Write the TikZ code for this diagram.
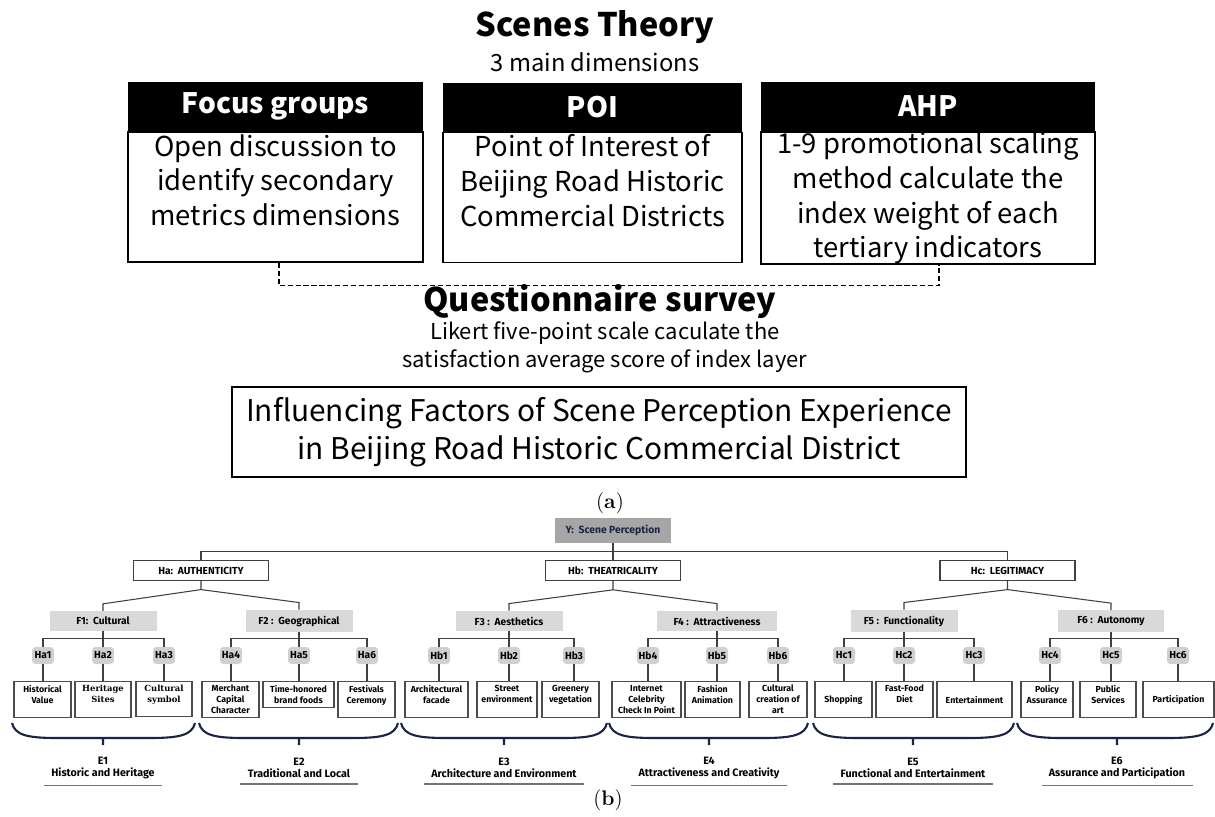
\documentclass[tikz,border=0pt]{standalone}
\usepackage{fontspec}
\newfontfamily\topfont{Noto Sans CJK SC}
\newfontfamily\treefont{Fira Sans}
\newfontfamily\slabfont{DejaVu Serif}
\usetikzlibrary{positioning}

\definecolor{navy}{HTML}{1B2447}
\definecolor{fgray}{HTML}{D9D9D9}
\definecolor{ygray}{HTML}{A6A6A6}
\definecolor{hgray}{HTML}{D0D0D0}

\begin{document}
\begin{tikzpicture}[x=0.02cm, y=-0.02cm,
        head/.style = {fill=black, text=white, inner sep=0pt, minimum height=0.98cm,
                       font=\topfont\bfseries\fontsize{16}{20}\selectfont},
        body/.style = {draw, line width=0.9pt, inner sep=0pt, align=center, minimum height=2.6cm,
                       font=\topfont\fontsize{15.6}{19.7}\selectfont},
        dashline/.style = {draw, line width=0.6pt, dash pattern=on 3pt off 1.5pt},
        ynode/.style = {fill=ygray, text=navy, minimum width=2.32cm, minimum height=0.5cm,
                        font=\treefont\bfseries\fontsize{5.9}{6.5}\selectfont},
        hbox/.style = {draw=black!75, line width=0.6pt, minimum width=2.7cm, minimum height=0.38cm,
                       font=\treefont\bfseries\fontsize{5.8}{6.5}\selectfont},
        fbox/.style = {fill=fgray, minimum width=#1*0.02cm, minimum height=0.36cm,
                       font=\treefont\bfseries\fontsize{5.8}{6.5}\selectfont},
        hnode/.style = {fill=hgray, rounded corners=2pt, minimum width=0.44cm, minimum height=0.34cm,
                        inner sep=1pt, font=\treefont\bfseries\fontsize{5.8}{6.5}\selectfont},
        leaf/.style = {draw=black!70, line width=0.6pt, anchor=north, align=center, inner sep=0pt,
                       minimum width=#1*0.02cm, minimum height=0.72cm,
                       font=\treefont\bfseries\fontsize{5}{6.2}\selectfont},
        edge/.style = {draw=black!75, line width=0.6pt},
        brace/.style = {draw=navy, line width=1.2pt},
        ulin/.style = {draw=black!55, line width=0.8pt},
        elabel/.style = {align=center, inner xsep=4pt, inner ysep=3.5pt,
                         font=\treefont\bfseries\fontsize{6.1}{6.6}\selectfont}
        ]
    \useasboundingbox (0,0) rectangle (1215,816);

    % (a)
    \node[font=\topfont\bfseries\fontsize{18.5}{22}\selectfont] (title) at (595,27) {Scenes Theory};
    \node[font=\topfont\fontsize{13.5}{16}\selectfont] (dims) at (595,62) {3 main dimensions};

    \node[head, minimum width=5.9cm] (hfocus) at (275.5,106.5) {Focus groups};
    \node[body, minimum width=5.9cm, below=0pt of hfocus] (focus)
        {Open discussion to\\identify secondary\\metrics dimensions\\~};
    \node[head, minimum width=5.98cm] (hpoi) at (592.5,107) {POI};
    \node[body, minimum width=5.98cm, below=0pt of hpoi] (poi)
        {Point of Interest of\\Beijing Road Historic\\Commercial Districts\\~};
    \node[head, minimum width=6.68cm] (hahp) at (928,106.5) {AHP};
    \node[body, minimum width=6.68cm, minimum height=2.64cm, below=0pt of hahp] (ahp)
        {1-9 promotional scaling\\method calculate the\\index weight of each\\tertiary indicators};

    \draw[dashline] ([xshift=0.07cm]focus.south) -- ++(0,23) -| ([xshift=0.22cm]ahp.south);

    \node[font=\topfont\bfseries\fontsize{18.5}{22}\selectfont] (quest) at (600,302) {Questionnaire survey};
    \node[align=center, font=\topfont\fontsize{12.5}{15.9}\selectfont] (likert) at (605,347)
        {Likert five-point scale caculate the\\satisfaction average score of index layer};
    \node[draw, line width=0.9pt, align=center, minimum width=14.68cm, minimum height=1.8cm,
          font=\topfont\fontsize{17}{22}\selectfont] (factors) at (599,432)
        {Influencing Factors of Scene Perception Experience\\in Beijing Road Historic Commercial District};
    \node[font=\fontsize{12}{14}\selectfont] (capa) at (610,503) {(\textbf{a})};

    % (b)
    \node[ynode] (Y) at (613,530.5) {Y:\ \ Scene Perception};
    \node[hbox] (Ha) at (201,570.5) {Ha:\ \ AUTHENTICITY};
    \node[hbox] (Hb) at (613,570.5) {Hb:\ \ THEATRICALITY};
    \node[hbox] (Hc) at (1007.5,570.5) {Hc:\ \ LEGITIMACY};
    \draw[edge] (Y.south) -- (Hb.north);
    \draw[edge] (Ha.north) -- ++(0,-9) -| (Hc.north);

    \node[fbox=107] (F1) at (103,621) {F1:\ \ Cultural};
    \node[fbox=107] (F2) at (299,621) {F2\ :\ \ Geographical};
    \node[fbox=107] (F3) at (509,621) {F3\ :\ \ Aesthetics};
    \node[fbox=120] (F4) at (717,621) {F4\ :\ \ Attractiveness};
    \node[fbox=107] (F5) at (904,621) {F5\ :\ \ Functionality};
    \node[fbox=106] (F6) at (1111,621) {F6\ :\ \ Autonomy};

    \foreach \h/\l/\r in {Ha/F1/F2, Hb/F3/F4, Hc/F5/F6}
        \draw[edge] (\l.north) -- ++(0,-7) -- ([yshift=-0.18cm]\h.south) -- ([yshift=0.14cm]\r.north)
            -- (\r.north) ([yshift=-0.18cm]\h.south) -- (\h.south);

    \foreach \n/\x in {Ha1/43, Ha2/103, Ha3/164, Ha4/231, Ha5/299, Ha6/367,
                       Hb1/439, Hb2/509, Hb3/574, Hb4/648, Hb5/717, Hb6/778,
                       Hc1/844, Hc2/904, Hc3/974, Hc4/1050, Hc5/1111, Hc6/1178}
        \node[hnode] (\n) at (\x,655.5) {\n};

    \foreach \f/\a/\b/\c in {F1/Ha1/Ha2/Ha3, F2/Ha4/Ha5/Ha6, F3/Hb1/Hb2/Hb3,
                             F4/Hb4/Hb5/Hb6, F5/Hc1/Hc2/Hc3, F6/Hc4/Hc5/Hc6}
        \draw[edge] (\f.south) -- (\b.north) (\a.north) -- ++(0,-8) -| (\c.north);

    \node[leaf=57] (vHa1) at (42.5,681) {Historical\\Value\\~};
    \node[leaf=56, font=\slabfont\bfseries\fontsize{4.8}{6.2}\selectfont] (vHa2) at (103,681) {Heritage\\Sites\\~};
    \node[leaf=56, minimum height=0.7cm, font=\slabfont\bfseries\fontsize{4.8}{6.2}\selectfont] (vHa3) at (164,681) {Cultural\\symbol\\~};
    \node[leaf=57] (vHa4) at (230.5,681) {Merchant\\Capital\\Character};
    \node[leaf=71, minimum height=0.52cm] (vHa5) at (298.5,681) {Time-honored\\brand foods};
    \node[leaf=57] (vHa6) at (366.5,681) {Festivals\\Ceremony\\~};
    \node[leaf=63] (vHb1) at (436.5,681) {Architectural\\facade\\~};
    \node[leaf=60] (vHb2) at (507,681) {Street\\environment\\~};
    \node[leaf=57] (vHb3) at (570.5,681) {Greenery\\vegetation\\~};
    \node[leaf=69] (vHb4) at (646.5,681) {Internet\\Celebrity\\Check In Point};
    \node[leaf=55] (vHb5) at (712.5,681) {Fashion\\Animation\\~};
    \node[leaf=58] (vHb6) at (778,681) {Cultural\\creation of\\art};
    \node[leaf=57] (vHc1) at (843.5,681) {Shopping};
    \node[leaf=57] (vHc2) at (904.5,681) {Fast-Food\\Diet\\~};
    \node[leaf=75] (vHc3) at (974.5,681) {Entertainment};
    \node[leaf=52] (vHc4) at (1047,681) {Policy\\Assurance\\~};
    \node[leaf=56] (vHc5) at (1108,681) {Public\\Services\\~};
    \node[leaf=71] (vHc6) at (1178.5,681) {Participation};

    \foreach \n in {Ha1,Ha2,Ha3,Ha4,Ha5,Ha6,Hb1,Hb2,Hb3,Hb4,Hb5,Hb6,Hc1,Hc2,Hc3,Hc4,Hc5,Hc6}
        \draw[edge] (\n.south) -- (\n.south |- v\n.north);

    \foreach \a/\b/\c in {12/195/103, 199/398/299, 401/607/504, 609/808/709, 813/1014/913, 1017/1213/1117}
        \draw[brace] (\a,723) .. controls (\a+3,735) and (\a+15,738) .. (\a+45,738) -- (\b-45,738)
            .. controls (\b-15,738) and (\b-3,735) .. (\b,723) (\c,738) -- (\c,745);

    \node[elabel] (E1) at (103,768) {E1\\Historic and Heritage};
    \node[elabel] (E2) at (299,768) {E2\\Traditional and Local};
    \node[elabel] (E3) at (504,768) {E3\\Architecture and Environment};
    \node[elabel] (E4) at (709,768) {E4\\Attractiveness and Creativity};
    \node[elabel] (E5) at (913,768) {E5\\Functional and Entertainment};
    \node[elabel] (E6) at (1117,768) {E6\\Assurance and Participation};
    \foreach \e in {E1,E2,E3,E4,E5,E6}
        \draw[ulin] (\e.south west) -- (\e.south east);

    \node[font=\fontsize{12}{14}\selectfont] (capb) at (608,800) {(\textbf{b})};
\end{tikzpicture}
\end{document}
